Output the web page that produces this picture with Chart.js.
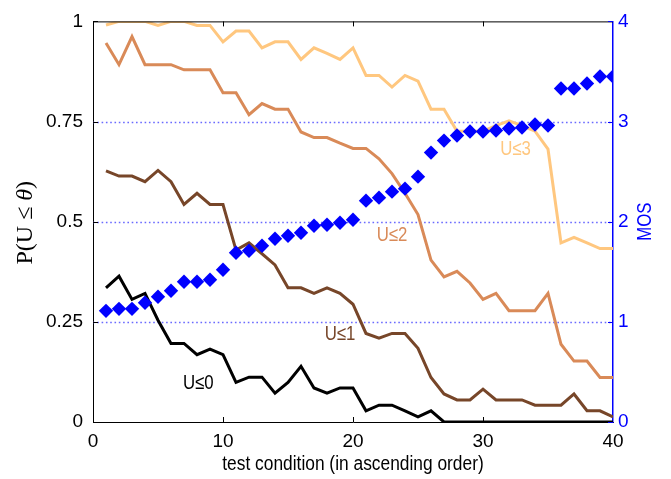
<!DOCTYPE html>
<html>
<head>
<meta charset="utf-8">
<script src="https://cdn.jsdelivr.net/npm/chart.js@4/dist/chart.umd.min.js"></script>
<style>
  html, body { margin: 0; padding: 0; background: #fff; }
  #wrap { width: 671px; height: 479px; }
</style>
</head>
<body>
<div id="wrap"><canvas id="c" width="671" height="479"></canvas></div>
<script>
// test conditions 1..40
const conditions = [1,2,3,4,5,6,7,8,9,10,11,12,13,14,15,16,17,18,19,20,
                    21,22,23,24,25,26,27,28,29,30,31,32,33,34,35,36,37,38,39,40];

// cumulative probabilities P(U <= theta)
const pU0 = [0.335,0.364,0.306,0.321,0.254,0.196,0.196,0.168,0.182,0.168,
             0.099,0.112,0.112,0.072,0.099,0.139,0.085,0.072,0.085,0.085,
             0.028,0.042,0.042,0.028,0.013,0.028,0,0,0,0,
             0,0,0,0,0,0,0,0,0,0];
const pU1 = [0.627,0.614,0.614,0.600,0.628,0.600,0.543,0.571,0.543,0.543,
             0.429,0.447,0.420,0.392,0.335,0.335,0.321,0.335,0.321,0.294,
             0.221,0.209,0.221,0.221,0.184,0.111,0.070,0.055,0.055,0.082,
             0.055,0.055,0.055,0.042,0.042,0.042,0.070,0.028,0.028,0.013];
const pU2 = [0.946,0.892,0.962,0.892,0.892,0.892,0.879,0.879,0.879,0.822,
             0.822,0.767,0.795,0.781,0.781,0.724,0.710,0.710,0.696,0.683,
             0.683,0.657,0.620,0.571,0.518,0.404,0.362,0.376,0.347,0.306,
             0.321,0.278,0.278,0.278,0.321,0.194,0.152,0.152,0.111,0.111];
const pU3 = [0.991,1.000,1.000,1.000,0.990,1.000,1.000,0.990,0.990,0.949,
             0.976,0.976,0.934,0.949,0.949,0.905,0.934,0.920,0.905,0.934,
             0.865,0.865,0.836,0.865,0.851,0.781,0.781,0.726,0.726,0.726,
             0.740,0.752,0.740,0.726,0.681,0.447,0.461,0.447,0.433,0.433];

// mean opinion score per condition
const mos = [1.11,1.13,1.13,1.19,1.25,1.31,1.40,1.40,1.42,1.52,
             1.69,1.71,1.76,1.83,1.86,1.89,1.96,1.97,1.99,2.02,
             2.21,2.24,2.30,2.33,2.45,2.69,2.81,2.86,2.90,2.90,
             2.91,2.93,2.94,2.97,2.96,3.33,3.33,3.38,3.45,3.45];

const xTicks = [0,10,20,30,40];
const pTicks = [0,0.25,0.5,0.75,1];
const mosTicks = [0,1,2,3,4];

const seriesNames = ['U\u22640','U\u22641','U\u22642','U\u22643'];
const seriesColors = ['#000000','#774629','#D98A58','#FFC77F'];
// label anchor points in data units (condition, probability)
const labelX = [8.1, 19.0, 23.0, 32.5];
const labelY = [0.095, 0.218, 0.465, 0.68];

const BLUE = '#0000FF';
const FONT = '"Liberation Sans", Arial, Helvetica, sans-serif';
const SERIF = '"Liberation Serif", "Times New Roman", serif';

const pts = arr => conditions.map((c, i) => ({x: c, y: arr[i]}));

const lineSet = (name, arr, color) => ({
  label: name, data: pts(arr), yAxisID: 'y',
  borderColor: color, backgroundColor: color, borderWidth: 3,
  pointRadius: 0, tension: 0, order: 1, fill: false
});

// text narrowed horizontally, like the condensed Helvetica of the axes
function narrowText(ctx, text, x, y, sx, rot) {
  ctx.save();
  ctx.translate(x, y);
  if (rot) ctx.rotate(rot);
  ctx.scale(sx, 1);
  ctx.fillText(text, 0, 0);
  ctx.restore();
}

// dotted horizontal grid, inward tick marks, frame and axis titles
const decorations = {
  id: 'decorations',
  beforeDatasetsDraw(chart) {
    const {ctx, chartArea: a, scales} = chart;
    ctx.save();
    ctx.strokeStyle = '#6A6AFF';
    ctx.lineWidth = 1.3;
    ctx.setLineDash([1.6, 2.7]);
    pTicks.slice(1, -1).forEach(v => {
      const py = Math.round(scales.y.getPixelForValue(v)) + 0.5;
      ctx.beginPath(); ctx.moveTo(a.left, py); ctx.lineTo(a.right, py); ctx.stroke();
    });
    ctx.restore();
  },
  afterDatasetsDraw(chart) {
    const {ctx, chartArea: a, scales} = chart;
    const L = 5;
    ctx.save();
    ctx.lineWidth = 1;
    // top frame line
    ctx.strokeStyle = '#000';
    ctx.beginPath(); ctx.moveTo(a.left, a.top + 0.5); ctx.lineTo(a.right, a.top + 0.5); ctx.stroke();
    // x ticks bottom and top
    xTicks.forEach(v => {
      if (v === xTicks[0] || v === xTicks[xTicks.length - 1]) return;
      const px = Math.round(scales.x.getPixelForValue(v)) + 0.5;
      ctx.beginPath();
      ctx.moveTo(px, a.bottom); ctx.lineTo(px, a.bottom - L);
      ctx.moveTo(px, a.top); ctx.lineTo(px, a.top + L);
      ctx.stroke();
    });
    // left ticks
    pTicks.forEach(v => {
      const py = Math.round(scales.y.getPixelForValue(v)) + 0.5;
      ctx.beginPath(); ctx.moveTo(a.left, py); ctx.lineTo(a.left + L, py); ctx.stroke();
    });
    // right ticks
    ctx.strokeStyle = BLUE;
    mosTicks.forEach(v => {
      const py = Math.round(scales.y2.getPixelForValue(v)) + 0.5;
      ctx.beginPath(); ctx.moveTo(a.right, py); ctx.lineTo(a.right - L, py); ctx.stroke();
    });
    ctx.restore();
  },
  afterDraw(chart) {
    const {ctx, chartArea: a, scales} = chart;
    ctx.save();
    ctx.textAlign = 'center';
    ctx.textBaseline = 'middle';
    // series labels
    ctx.font = '20px ' + FONT;
    seriesNames.forEach((n, i) => {
      ctx.fillStyle = seriesColors[i];
      narrowText(ctx, n, scales.x.getPixelForValue(labelX[i]), scales.y.getPixelForValue(labelY[i]), 0.84);
    });
    const midY = (a.top + a.bottom) / 2;
    // x axis title
    ctx.fillStyle = '#000';
    ctx.font = '19.5px ' + FONT;
    narrowText(ctx, 'test condition (in ascending order)', (a.left + a.right) / 2, 465, 0.89);
    // left axis title, with italic theta
    ctx.save();
    ctx.translate(26, midY + 1);
    ctx.rotate(-Math.PI / 2);
    const parts = [['P(U \u2264 ', ''], ['\u03B8', 'italic '], [')', '']];
    let total = 0;
    parts.forEach(p => { ctx.font = p[1] + '24px ' + SERIF; total += ctx.measureText(p[0]).width; });
    let x = -total / 2;
    ctx.textAlign = 'left';
    parts.forEach(p => {
      ctx.font = p[1] + '24px ' + SERIF;
      ctx.fillText(p[0], x, 0);
      x += ctx.measureText(p[0]).width;
    });
    ctx.restore();
    // right axis title
    ctx.fillStyle = BLUE;
    ctx.font = '19.5px ' + FONT;
    narrowText(ctx, 'MOS', 646, midY, 0.86, -Math.PI / 2);
    ctx.restore();
  }
};

new Chart(document.getElementById('c'), {
  type: 'line',
  data: {
    datasets: [
      lineSet(seriesNames[0], pU0, seriesColors[0]),
      lineSet(seriesNames[1], pU1, seriesColors[1]),
      lineSet(seriesNames[2], pU2, seriesColors[2]),
      lineSet(seriesNames[3], pU3, seriesColors[3]),
      {
        label: 'MOS', data: pts(mos), yAxisID: 'y2',
        showLine: false, pointStyle: 'rectRot', pointRadius: 7.2,
        pointBackgroundColor: BLUE, pointBorderColor: BLUE, pointBorderWidth: 0,
        order: 0
      }
    ]
  },
  options: {
    responsive: false,
    animation: false,
    layout: { padding: { top: 12, left: 0, right: 0, bottom: 0 } },
    plugins: { legend: { display: false }, tooltip: { enabled: false } },
    scales: {
      x: {
        type: 'linear', min: 0, max: 40,
        afterBuildTicks: s => { s.ticks = xTicks.map(v => ({value: v})); },
        afterFit: s => { s.height = 57; },
        grid: { display: false, drawTicks: false },
        border: { display: true, color: '#000', width: 1 },
        ticks: { color: '#000', font: { size: 19, family: FONT }, padding: 8, maxRotation: 0 }
      },
      y: {
        position: 'left', min: 0, max: 1,
        afterBuildTicks: s => { s.ticks = pTicks.map(v => ({value: v})); },
        afterFit: s => { s.width = 93; },
        grid: { display: false, drawTicks: false },
        border: { display: true, color: '#000', width: 1 },
        ticks: { color: '#000', font: { size: 19, family: FONT }, padding: 10,
                 callback: v => String(v) }
      },
      y2: {
        position: 'right', min: 0, max: 4,
        afterBuildTicks: s => { s.ticks = mosTicks.map(v => ({value: v})); },
        afterFit: s => { s.width = 58; },
        grid: { display: false, drawTicks: false },
        border: { display: true, color: BLUE, width: 1.5 },
        ticks: { color: BLUE, font: { size: 19, family: FONT }, padding: 5 }
      }
    }
  },
  plugins: [decorations]
});
</script>
</body>
</html>
